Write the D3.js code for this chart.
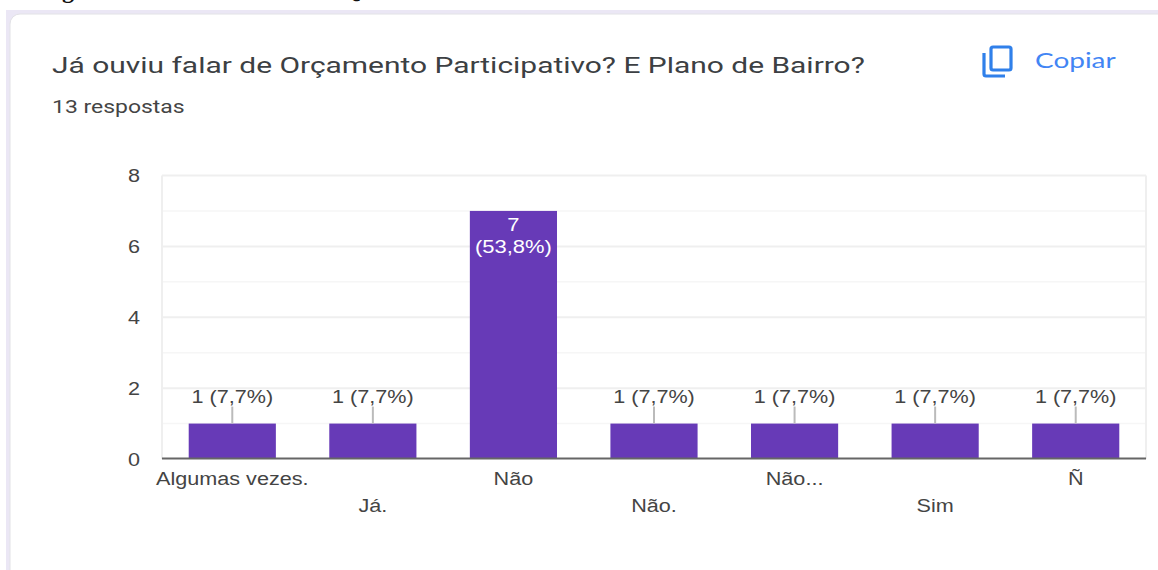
<!DOCTYPE html>
<html>
<head>
<meta charset="utf-8">
<script src="https://cdn.jsdelivr.net/npm/d3@7"></script>
<style>
  html, body { margin: 0; padding: 0; background: #fff; overflow: hidden; }
  text { font-family: Roboto, Arial, sans-serif; }
</style>
</head>
<body>
<script>
const categories = ['Algumas vezes.', 'Já.', 'Não', 'Não.', 'Não...', 'Sim', 'Ñ']
const values = [1, 1, 7, 1, 1, 1, 1]
const pctLabels = ['7,7%', '7,7%', '53,8%', '7,7%', '7,7%', '7,7%', '7,7%']
const yTicks = [0, 2, 4, 6, 8]
const yMinor = [1, 3, 5, 7]

const width = 1158, height = 570
const purple = '#673ab7', tickText = '#444', grid = '#efefef'
const labelFont = '"Liberation Sans", Arial, sans-serif'

// the screenshot is stretched sideways, so text gets widened to match
function stretch(sel, factor) {
  sel.each(function() {
    d3.select(this)
      .attr('textLength', this.getComputedTextLength() * factor)
      .attr('lengthAdjust', 'spacingAndGlyphs')
  })
  return sel
}

const svg = d3.select('body').append('svg')
  .attr('width', width).attr('height', height)
  .style('display', 'block')

// only the bottoms of these two letters survive the crop at the top
svg.selectAll('text.crop').data([['g', 62], ['Q', 342]]).enter().append('text')
  .attr('class', 'crop')
  .attr('x', d => d[1]).attr('y', -2)
  .style('font-family', '"Liberation Serif", serif')
  .attr('font-weight', 'bold').attr('font-size', 24).attr('fill', '#111')
  .text(d => d[0])

// card behind the chart
svg.append('rect').attr('x', 6).attr('y', 10).attr('width', width).attr('height', height)
  .attr('fill', '#ebe7f5')
svg.append('rect').attr('x', 10).attr('y', 14).attr('width', width).attr('height', height)
  .attr('rx', 10).attr('fill', '#fff').attr('stroke', '#e2e2e6')

stretch(svg.append('text').attr('x', 52).attr('y', 73)
  .attr('font-size', 22.5).attr('fill', '#3c4043')
  .text('Já ouviu falar de Orçamento Participativo? E Plano de Bairro?'), 1.33)
stretch(svg.append('text').attr('x', 52).attr('y', 113)
  .attr('font-size', 18.5).attr('fill', '#444')
  .text('13 respostas'), 1.24)

// copy icon
const icon = svg.append('g').attr('fill', 'none').attr('stroke', '#1a73e8')
  .attr('stroke-width', 3.2).attr('opacity', 0.9)
icon.append('rect').attr('x', 991).attr('y', 47).attr('width', 20).attr('height', 23).attr('rx', 2)
icon.append('path').attr('d', 'M984 53v21q0 2 2 2h19')
stretch(svg.append('text').attr('x', 1035).attr('y', 68)
  .style('font-family', 'Lato, Roboto, sans-serif')
  .attr('font-size', 22).attr('fill', '#4285f4')
  .text('Copiar'), 1.27)

const x = d3.scaleBand().domain(d3.range(categories.length)).range([162, 1146]).paddingInner(0.38).paddingOuter(0.19)
const y = d3.scaleLinear().domain([0, 8]).range([459, 175.5])

// gridlines
svg.append('g').selectAll('line').data(yMinor).enter().append('line')
  .attr('x1', 162).attr('x2', 1146)
  .attr('y1', d => y(d)).attr('y2', d => y(d))
  .attr('stroke', '#f6f6f6').attr('stroke-width', 1.5)
svg.append('g').selectAll('line').data(yTicks.slice(1)).enter().append('line')
  .attr('x1', 162).attr('x2', 1146)
  .attr('y1', d => y(d)).attr('y2', d => y(d))
  .attr('stroke', grid).attr('stroke-width', 2)
svg.append('line').attr('x1', 162).attr('x2', 162).attr('y1', 175.5).attr('y2', 459)
  .attr('stroke', grid).attr('stroke-width', 2)
svg.append('line').attr('x1', 1146).attr('x2', 1146).attr('y1', 175.5).attr('y2', 459)
  .attr('stroke', grid).attr('stroke-width', 2)

// y axis
const yAxis = svg.append('g')
  .attr('transform', 'translate(140,0)')
  .call(d3.axisLeft(y).tickValues(yTicks).tickSize(0).tickPadding(0))
yAxis.select('.domain').remove()
yAxis.selectAll('text').attr('font-size', 18).attr('fill', tickText)
  .style('font-family', labelFont)
  .attr('dy', '0.36em')
stretch(yAxis.selectAll('text'), 1.2)

// bars
svg.append('g').attr('fill', purple).selectAll('rect')
  .data(values).enter().append('rect')
  .attr('x', (d, i) => x(i))
  .attr('y', d => y(d))
  .attr('width', x.bandwidth())
  .attr('height', d => y(0) - y(d))

// baseline
svg.append('line').attr('x1', 162).attr('x2', 1146).attr('y1', 458.5).attr('y2', 458.5)
  .attr('stroke', '#666').attr('stroke-width', 2)

// x labels, staggered on two rows
const xAxis = svg.append('g')
  .attr('transform', 'translate(0,458)')
  .call(d3.axisBottom(x).tickFormat(i => categories[i]).tickSize(0).tickPadding(0))
xAxis.select('.domain').remove()
xAxis.selectAll('text')
  .attr('font-size', 18).attr('fill', tickText).attr('dy', 0)
  .style('font-family', labelFont)
  .attr('y', (i) => (i === 1 || i === 3 || i === 5) ? 54 : 27)
stretch(xAxis.selectAll('text'), 1.2)

// value labels
values.forEach((v, i) => {
  const cx = x(i) + x.bandwidth() / 2
  if (v > 1) {
    stretch(svg.append('text').attr('x', cx).attr('y', y(v) + 20).attr('text-anchor', 'middle')
      .style('font-family', labelFont).attr('font-size', 18).attr('fill', '#fff').text(v), 1.22)
    stretch(svg.append('text').attr('x', cx).attr('y', y(v) + 42).attr('text-anchor', 'middle')
      .style('font-family', labelFont).attr('font-size', 18).attr('fill', '#fff').text('(' + pctLabels[i] + ')'), 1.22)
  } else {
    svg.append('line').attr('x1', cx).attr('x2', cx).attr('y1', y(v)).attr('y2', y(v) - 17)
      .attr('stroke', '#bbb').attr('stroke-width', 2)
    stretch(svg.append('text').attr('x', cx).attr('y', y(v) - 21).attr('text-anchor', 'middle')
      .style('font-family', labelFont).attr('font-size', 18).attr('fill', tickText)
      .text(v + ' (' + pctLabels[i] + ')'), 1.2)
  }
})
</script>
</body>
</html>
